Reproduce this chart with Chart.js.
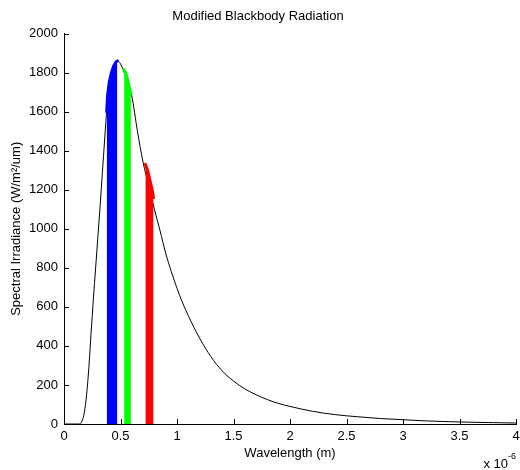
<!DOCTYPE html>
<html>
<head>
<meta charset="utf-8">
<script src="https://cdn.jsdelivr.net/npm/chart.js@4"></script>
<style>
  html, body { margin: 0; padding: 0; background: #fff; }
  #wrap { width: 520px; height: 470px; }
</style>
</head>
<body>
<div id="wrap"><canvas id="chart"></canvas></div>
<script>
// wavelength in micrometres (axis shows x 10^-6 m), irradiance in W/m^2/um
const wavelength = [0, 0.05, 0.1, 0.14, 0.16, 0.18, 0.2, 0.22, 0.24, 0.26, 0.28, 0.3, 0.32, 0.34, 0.36, 0.38,
  0.4, 0.42, 0.44, 0.46, 0.48, 0.5, 0.52, 0.55, 0.6, 0.65, 0.7, 0.75, 0.8, 0.85, 0.9, 0.95, 1.0, 1.05,
  1.1, 1.2, 1.3, 1.4, 1.5, 1.6, 1.7, 1.8, 1.9, 2.0, 2.2, 2.4, 2.6, 2.8, 3.0, 3.2, 3.4, 3.6, 3.8, 4.0];
const irradiance = [0, 0, 0, 0, 15, 60, 150, 290, 470, 640, 800, 960, 1120, 1290, 1460, 1620,
  1730, 1790, 1830, 1852, 1858, 1845, 1820, 1770, 1680, 1500, 1340, 1220, 1100, 990, 875, 780, 695, 620,
  555, 440, 345, 272, 220, 180, 150, 125, 105, 90, 65, 48, 37, 28, 22, 16, 12, 9, 7, 5];

// coloured bands (blue, green, red) under the curve
const blueX = [0.378, 0.385, 0.40, 0.42, 0.44, 0.46, 0.472];
const blueY = [1600, 1680, 1750, 1800, 1835, 1855, 1860];
const greenX = [0.532, 0.545, 0.56, 0.58, 0.592];
const greenY = [1815, 1800, 1770, 1720, 1690];
const redX = [0.72, 0.74, 0.76, 0.78, 0.792];
const redY = [1330, 1300, 1250, 1200, 1160];

const xTicks = [0, 0.5, 1, 1.5, 2, 2.5, 3, 3.5, 4];

const FONT = "'Liberation Sans', Arial, sans-serif";

function pts(xs, ys) {
  return xs.map((x, i) => ({ x: x, y: ys[i] }));
}

function band(xs, ys, color) {
  return {
    data: pts(xs, ys),
    borderColor: color,
    backgroundColor: color,
    borderWidth: 3,
    borderCapStyle: 'round',
    borderJoinStyle: 'round',
    pointRadius: 0,
    fill: 'origin',
    order: 0,
  };
}

// MATLAB style ticks pointing into the plot, plus the x 10^-6 multiplier
const axisExtras = {
  id: 'axisExtras',
  afterDraw(chart) {
    const ctx = chart.ctx;
    const xs = chart.scales.x, ys = chart.scales.y;
    const a = chart.chartArea;
    ctx.save();
    ctx.strokeStyle = '#000';
    ctx.lineWidth = 1;
    ctx.beginPath();
    xs.ticks.forEach(t => {
      const px = Math.round(xs.getPixelForValue(t.value)) + 0.5;
      ctx.moveTo(px, a.bottom);
      ctx.lineTo(px, a.bottom - 5);
    });
    ys.ticks.forEach(t => {
      const py = Math.round(ys.getPixelForValue(t.value)) + 0.5;
      ctx.moveTo(a.left, py);
      ctx.lineTo(a.left + 5, py);
    });
    ctx.stroke();
    ctx.fillStyle = '#000';
    ctx.textBaseline = 'alphabetic';
    ctx.textAlign = 'right';
    ctx.font = '13px ' + FONT;
    ctx.fillText('x 10', 508, 468);
    ctx.textAlign = 'left';
    ctx.font = '9px ' + FONT;
    ctx.fillText('-6', 508, 459);
    ctx.restore();
  }
};

const config = {
  type: 'line',
  data: {
    datasets: [
      band(blueX, blueY, '#0000ff'),
      band(greenX, greenY, '#00ff00'),
      band(redX, redY, '#ff0000'),
      {
        data: pts(wavelength, irradiance),
        borderColor: '#000',
        borderWidth: 1,
        pointRadius: 0,
        cubicInterpolationMode: 'monotone',
        fill: false,
        order: 1,
      },
    ],
  },
  options: {
    responsive: true,
    maintainAspectRatio: false,
    animation: false,
    layout: { padding: { left: 0, right: 4, top: 0, bottom: 0 } },
    plugins: {
      legend: { display: false },
      tooltip: { enabled: false },
      title: {
        display: true,
        text: 'Modified Blackbody Radiation',
        color: '#000',
        font: { family: FONT, size: 13, weight: 'normal' },
        padding: { top: 9, bottom: 9 },
      },
    },
    scales: {
      x: {
        type: 'linear',
        min: 0,
        max: 4,
        afterBuildTicks: s => { s.ticks = xTicks.map(v => ({ value: v })); },
        afterFit: s => { s.height = 46; s.paddingLeft = 0; s.paddingRight = 0; },
        grid: { display: false, drawTicks: false },
        border: { display: true, color: '#000', width: 1 },
        ticks: {
          color: '#000',
          padding: 5,
          maxRotation: 0,
          autoSkip: false,
          font: { family: FONT, size: 13 },
          callback: v => String(v),
        },
        title: {
          display: true,
          text: 'Wavelength (m)',
          color: '#000',
          font: { family: FONT, size: 13 },
          padding: { top: 0, bottom: 9 },
        },
      },
      y: {
        min: 0,
        max: 2000,
        afterFit: s => { s.width = 64; s.paddingTop = 0; s.paddingBottom = 0; },
        grid: { display: false, drawTicks: false },
        border: { display: true, color: '#000', width: 1 },
        ticks: {
          stepSize: 200,
          color: '#000',
          padding: 6,
          font: { family: FONT, size: 13 },
          callback: v => String(v),
        },
        title: {
          display: true,
          text: 'Spectral Irradiance (W/m\u00b2/um)',
          color: '#000',
          font: { family: FONT, size: 13 },
          padding: { top: 9, bottom: 0 },
        },
      },
    },
  },
  plugins: [axisExtras],
};

new Chart(document.getElementById('chart'), config);
</script>
</body>
</html>
